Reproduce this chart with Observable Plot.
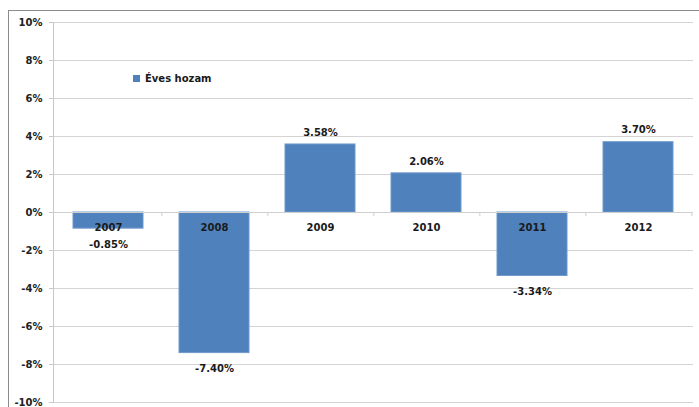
<!DOCTYPE html>
<html>
<head>
<meta charset="utf-8">
<script src="https://cdn.jsdelivr.net/npm/d3@7"></script>
<script src="https://cdn.jsdelivr.net/npm/@observablehq/plot@0.6"></script>
<style>
  html, body { margin: 0; padding: 0; background: #fff; }
  #wrap { position: relative; width: 699px; height: 407px; overflow: hidden; font-family: "DejaVu Sans", Verdana, sans-serif; }
  #border { position: absolute; left: 8px; top: 10px; right: -2px; bottom: -2px; border-left: 1px solid #8c8c8c; border-top: 1px solid #8c8c8c; }
  #legend { position: absolute; left: 133px; top: 73px; font-size: 10px; font-weight: bold; color: #1a1a1a; display: flex; align-items: center; gap: 5px; }
  #legend .sw { width: 7px; height: 7px; background: #4F81BD; }
  #chart { position: absolute; left: 0; top: 0; }
</style>
</head>
<body>
<div id="wrap">
  <div id="border"></div>
  <div id="chart"></div>
  <div id="legend"><span class="sw"></span><span>Éves hozam</span></div>
</div>
<script>
const years = ["2007", "2008", "2009", "2010", "2011", "2012"];
const returns = [-0.85, -7.40, 3.58, 2.06, -3.34, 3.70];
const yTicks = [-10, -8, -6, -4, -2, 0, 2, 4, 6, 8, 10];
const seriesName = "Éves hozam";

const data = years.map((y, i) => ({year: y, value: returns[i]}));
const W = 699, H = 407, mL = 53, mR = 6, mT = 22, mB = 5;
const step = (W - mL - mR) / years.length;
const font = "'DejaVu Sans', Verdana, sans-serif";

const chart = Plot.plot({
  width: W,
  height: H,
  marginLeft: mL,
  marginRight: mR,
  marginTop: mT,
  marginBottom: mB,
  style: {fontFamily: font, background: "transparent"},
  x: {domain: years, paddingInner: 0.335, paddingOuter: 0.1675, axis: null},
  y: {domain: [-10, 10], label: null},
  marks: [
    Plot.gridY(yTicks, {stroke: "#d4d4d4", strokeOpacity: 1}),
    Plot.axisY(yTicks, {
      label: null,
      tickSize: 4, tickPadding: 7, stroke: "#c8c8c8",
      tickFormat: d => d + "%",
      fontSize: 10, fontWeight: "bold", fill: "#222"
    }),
    Plot.frame({anchor: "left", stroke: "#c8c8c8"}),
    Plot.barY(data, {x: "year", y: "value", fill: "#4F81BD", stroke: "#6f98cb", strokeWidth: 1}),
    Plot.ruleY([0], {stroke: "#cfcfcf"}),
    Plot.ruleX(years, {x: d => d, y1: 0, y2: -0.22, dx: step / 2, stroke: "#cfcfcf"}),
    Plot.text(data, {x: "year", y: 0, dy: 15, text: "year", fontSize: 10, fontWeight: "bold", fill: "#1a1a1a"}),
    Plot.text(data.filter(d => d.value >= 0), {x: "year", y: "value", dy: -12, text: d => d.value.toFixed(2) + "%", fontSize: 10, fontWeight: "bold", fill: "#1a1a1a"}),
    Plot.text(data.filter(d => d.value < 0), {x: "year", y: "value", dy: 16, text: d => d.value.toFixed(2) + "%", fontSize: 10, fontWeight: "bold", fill: "#1a1a1a"})
  ]
});
document.getElementById("chart").appendChild(chart);
</script>
</body>
</html>
